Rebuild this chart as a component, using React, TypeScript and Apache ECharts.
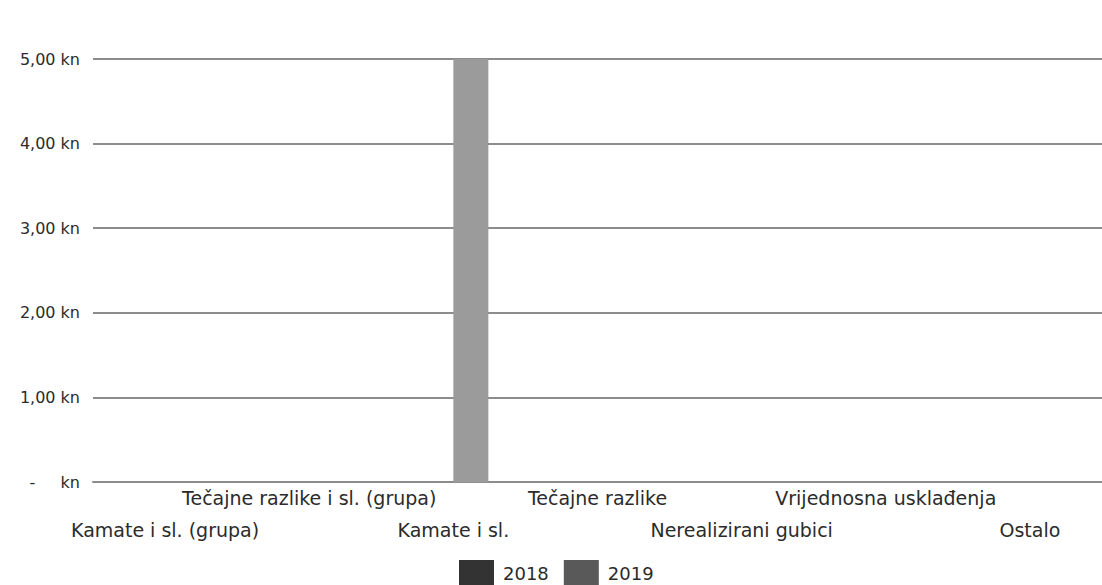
import React, { useEffect, useRef } from "react";
import * as echarts from "echarts";

const categories = [
  "Kamate i sl. (grupa)",
  "Tečajne razlike i sl. (grupa)",
  "Kamate i sl.",
  "Tečajne razlike",
  "Nerealizirani gubici",
  "Vrijednosna usklađenja",
  "Ostalo",
];
const values2018 = [0, 0, 0, 0, 0, 0, 0];
const values2019 = [0, 0, 5, 0, 0, 0, 0];
const seriesNames = ["2018", "2019"];

const FONT = "DejaVu Sans";

export default function App() {
  const ref = useRef<HTMLDivElement>(null);
  useEffect(() => {
    document.body.style.margin = "0";
    const chart = echarts.init(ref.current!, undefined, { renderer: "svg" });
    chart.setOption({
      animation: false,
      backgroundColor: "#ffffff",
      textStyle: { fontFamily: FONT },
      grid: { left: 93, top: 59, width: 1016, bottom: 103, containLabel: false },
      legend: {
        data: [
          { name: seriesNames[0], itemStyle: { color: "#333333" } },
          { name: seriesNames[1], itemStyle: { color: "#595959" } },
        ],
        top: 560,
        left: 459,
        padding: 0,
        itemWidth: 35,
        itemHeight: 26,
        itemGap: 15,
        icon: "rect",
        textStyle: { fontFamily: FONT, fontSize: 18, color: "#2b2b2b", padding: [0, 0, 0, 4] },
      },
      xAxis: {
        type: "category",
        data: categories,
        axisLine: { show: true, lineStyle: { color: "#8c8c8c", width: 2 } },
        axisTick: { show: false },
        axisLabel: {
          interval: 0,
          hideOverlap: false,
          margin: 0,
          lineHeight: 32,
          fontFamily: FONT,
          fontSize: 19,
          color: "#2b2b2b",
          formatter: (v: string, i: number) => (i % 2 === 0 ? "\n" + v : v),
        },
      },
      yAxis: {
        type: "value",
        min: 0,
        max: 5,
        interval: 1,
        axisLine: { show: false },
        axisTick: { show: false },
        splitLine: { lineStyle: { color: "#8c8c8c", width: 2 } },
        axisLabel: {
          margin: 13,
          fontFamily: FONT,
          fontSize: 16,
          color: "#2b2b2b",
          formatter: (v: number) =>
            v === 0 ? "-     kn" : v.toFixed(2).replace(".", ",") + " kn",
        },
      },
      series: [
        {
          name: seriesNames[0],
          type: "bar",
          data: values2018,
          barWidth: 35,
          barGap: "0%",
          itemStyle: { color: "#333333" },
        },
        {
          name: seriesNames[1],
          type: "bar",
          data: values2019,
          barWidth: 35,
          barGap: "0%",
          itemStyle: { color: "#9b9b9b" },
        },
      ],
    });
    return () => chart.dispose();
  }, []);
  return <div ref={ref} style={{ width: 1102, height: 585 }} />;
}
